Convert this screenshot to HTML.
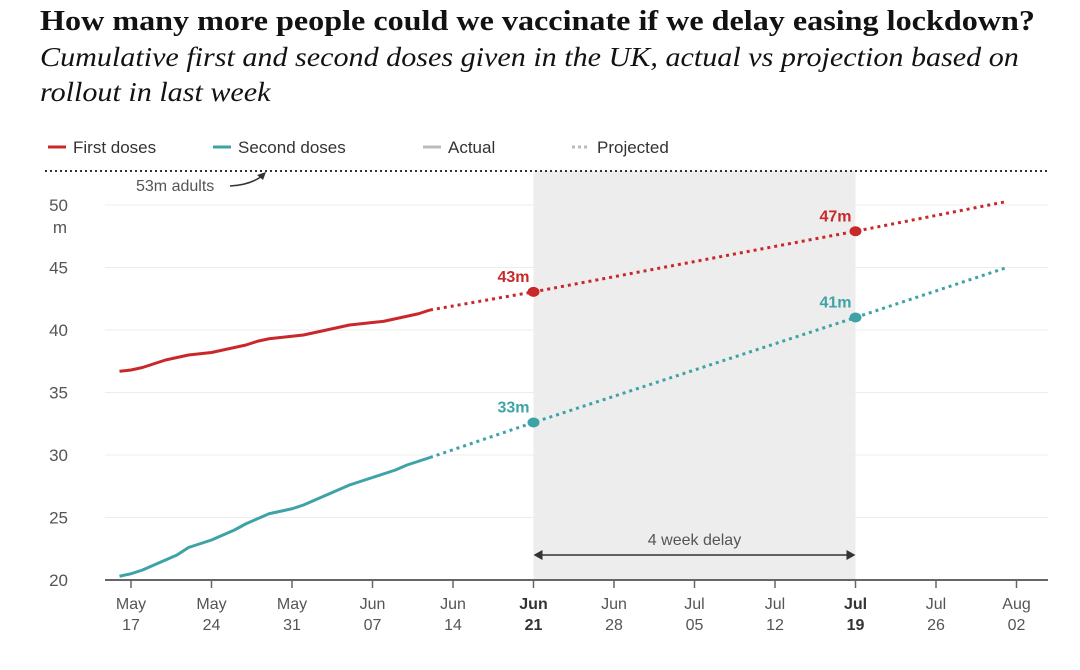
<!DOCTYPE html>
<html><head><meta charset="utf-8"><style>
body{margin:0;background:#fff;width:1080px;height:670px;overflow:hidden;font-family:"Liberation Sans",sans-serif}
h1{position:absolute;left:40px;top:6px;margin:0;font:bold 28px "Liberation Serif",serif;color:#121212;white-space:nowrap;transform-origin:0 0;transform:scaleX(1.148)}
h2{position:absolute;left:40px;top:40px;margin:0;font:italic 27px/35px "Liberation Serif",serif;color:#121212;white-space:nowrap;transform-origin:0 0;transform:scaleX(1.115)}
svg{position:absolute;left:0;top:0}
</style></head><body>
<h1>How many more people could we vaccinate if we delay easing lockdown?</h1>
<h2>Cumulative first and second doses given in the UK, actual vs projection based on<br>rollout in last week</h2>
<svg id="c" width="1080" height="670"></svg>
<script>
const firstActual=[36.7,36.8,37.0,37.3,37.6,37.8,38.0,38.1,38.2,38.4,38.6,38.8,39.1,39.3,39.4,39.5,39.6,39.8,40.0,40.2,40.4,40.5,40.6,40.7,40.9,41.1,41.3,41.6];
const secondActual=[20.3,20.5,20.8,21.2,21.6,22.0,22.6,22.9,23.2,23.6,24.0,24.5,24.9,25.3,25.5,25.7,26.0,26.4,26.8,27.2,27.6,27.9,28.2,28.5,28.8,29.2,29.5,29.8];
const projDays=[26,35,63,76];
const firstProj=[41.6,43.05,47.9,50.25];
const secondProj=[29.8,32.6,41.0,44.95];
const markerDays=[35,63];
const firstMarkers=[43.05,47.9];
const secondMarkers=[32.6,41.0];
const firstLabels=["43m","47m"];
const secondLabels=["33m","41m"];
const yTicks=[20,25,30,35,40,45,50];
const xTickMonths=["May","May","May","Jun","Jun","Jun","Jun","Jul","Jul","Jul","Jul","Aug"];
const xTickDays=["17","24","31","07","14","21","28","05","12","19","26","02"];
const adults=53;
const startDay=-1;

const NS="http://www.w3.org/2000/svg",svg=document.getElementById('c');
const x=d=>131+11.5*d, y=v=>580-12.5*(v-20);
function el(t,a,p){const e=document.createElementNS(NS,t);for(const k in a)e.setAttribute(k,a[k]);(p||svg).appendChild(e);return e}
const RED="#c9282a",TEAL="#3ea3a6",F='"Liberation Sans",sans-serif';
let r=el('rect',{x:x(35),y:171,width:x(63)-x(35),height:580-171,fill:"#ededed"});


yTicks.forEach((v,i)=>{
 let g=el('line',{x1:105,x2:1048,y1:y(v),y2:y(v),stroke:"#ececec","stroke-width":1});
 
 
 let t=el('text',{x:68,y:y(v)+6,"text-anchor":"end","font-size":17,fill:"#555","font-family":F});t.textContent=v;
 
 
});
let mu=el('text',{x:60,y:233,"text-anchor":"middle","font-size":17,fill:"#555","font-family":F});mu.textContent="m";


let al=el('line',{x1:45,x2:1048,y1:171,y2:171,stroke:"#333","stroke-width":2,"stroke-dasharray":"2 3"});


let at=el('text',{x:136,y:191,"font-size":16,fill:"#555","font-family":F});at.textContent="53m adults";


let ar=el('path',{d:"M230 186 Q250 185 262 176",fill:"none",stroke:"#333","stroke-width":1.5});


el('path',{d:"M266 172 L257 175 L263 180 Z",fill:"#333"});
let ax=el('line',{x1:105,x2:1048,y1:580,y2:580,stroke:"#666","stroke-width":2});


xTickDays.forEach((d,i)=>{
 const xx=x(i*7), bold=(i==5||i==9);
 el('line',{x1:xx,x2:xx,y1:580,y2:588,stroke:"#666","stroke-width":1.5});
 let t=el('text',{x:xx,y:609,"text-anchor":"middle","font-size":16,fill:bold?"#333":"#555","font-weight":bold?"bold":"normal","font-family":F});t.textContent=xTickMonths[i];
 
 
 let t2=el('text',{x:xx,y:630,"text-anchor":"middle","font-size":16,fill:bold?"#333":"#555","font-weight":bold?"bold":"normal","font-family":F});t2.textContent=d;
 
 
});
let da=el('line',{x1:x(35)+6,x2:x(63)-6,y1:555,y2:555,stroke:"#333","stroke-width":1.5});


el('path',{d:`M${x(35)} 555 l9 -5 v10 z`,fill:"#333"});
el('path',{d:`M${x(63)} 555 l-9 -5 v10 z`,fill:"#333"});
let dt=el('text',{x:(x(35)+x(63))/2,y:545,"text-anchor":"middle","font-size":16,fill:"#555","font-family":F});dt.textContent="4 week delay";


function series(actual,pDays,pVals,col,name){
 let p=el('polyline',{points:actual.map((v,i)=>x(startDay+i)+","+y(v)).join(" "),fill:"none",stroke:col,"stroke-width":3,"stroke-linejoin":"round"});
 
 
 let q=el('polyline',{points:pDays.map((d,i)=>x(d)+","+y(pVals[i])).join(" "),fill:"none",stroke:col,"stroke-width":3,"stroke-dasharray":"3 4"});
 
 
}
series(firstActual,projDays,firstProj,RED,'first-doses');
series(secondActual,projDays,secondProj,TEAL,'second-doses');
function markers(vals,labels,col,name){
 vals.forEach((v,i)=>{
  let c=el('ellipse',{cx:x(markerDays[i]),cy:y(v),rx:6,ry:5,fill:col});
  
  
  let t=el('text',{x:x(markerDays[i])-4,y:y(v)-10,"text-anchor":"end","font-size":16,"font-weight":"bold",fill:col,"font-family":F});t.textContent=labels[i];
  
  
 });
}
markers(firstMarkers,firstLabels,RED,'first-doses');
markers(secondMarkers,secondLabels,TEAL,'second-doses');
const leg=[["First doses",RED,48,false],["Second doses",TEAL,213,false],["Actual","#bbb",423,false],["Projected","#bbb",572,true]];
leg.forEach(l=>{
 let ln=el('line',{x1:l[2],x2:l[2]+18,y1:147,y2:147,stroke:l[1],"stroke-width":3,"stroke-dasharray":l[3]?"3 3":"none"});
 
 
 let t=el('text',{x:l[2]+25,y:153,"font-size":17,fill:"#333","font-family":F});t.textContent=l[0];
 
 
});
</script>
</body></html>
